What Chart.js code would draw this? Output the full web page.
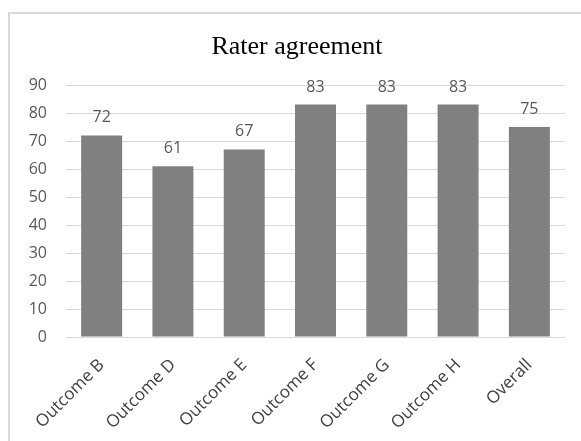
<!DOCTYPE html>
<html>
<head>
<meta charset="utf-8">
<script src="https://cdn.jsdelivr.net/npm/chart.js@4/dist/chart.umd.min.js"></script>
<style>
    html, body { margin: 0; padding: 0; background: #fff; overflow: hidden; }
    #frame {
        position: absolute; left: 8px; top: 12px;
        width: 640px; height: 500px;
        border: 2px solid #d9d9d9; box-sizing: border-box;
    }
    #wrap { position: absolute; left: 0; top: 0; width: 581px; height: 441px; }
</style>
</head>
<body>
<div id="frame"></div>
<div id="wrap"><canvas id="bar-chart" width="581" height="441"></canvas></div>
<script>
const chartTitle = 'Rater agreement';
const categories = ['Outcome B', 'Outcome D', 'Outcome E', 'Outcome F', 'Outcome G', 'Outcome H', 'Overall'];
const agreement = [72, 61, 67, 83, 83, 83, 75];
const yTicks = [0, 10, 20, 30, 40, 50, 60, 70, 80, 90];

// value labels above each bar + title (title sits off-centre in the original)
const barLabels = {
    id: 'barLabels',
    afterDatasetsDraw: function (chart) {
        const ctx = chart.ctx;
        const meta = chart.getDatasetMeta(0);
        ctx.save();
        ctx.font = '16px "Open Sans"';
        ctx.fillStyle = '#595959';
        ctx.textAlign = 'center';
        ctx.textBaseline = 'alphabetic';
        meta.data.forEach(function (bar, i) {
            ctx.fillText(String(agreement[i]), bar.x, bar.y - 13);
        });

        ctx.font = '26px "Liberation Serif", "Times New Roman", serif';
        ctx.fillStyle = '#000';
        ctx.fillText(chartTitle, 297, 54);
        ctx.restore();
    }
};

new Chart(document.querySelector('#bar-chart').getContext('2d'), {
    type: 'bar',
    data: {
        labels: categories,
        datasets: [{
            data: agreement,
            backgroundColor: '#808080',
            borderWidth: 0,
            categoryPercentage: 1,
            barPercentage: 0.575
        }]
    },
    options: {
        responsive: false,
        animation: false,
        layout: { padding: { left: 8, right: 16, top: 85, bottom: 0 } },
        plugins: {
            legend: { display: false },
            tooltip: { enabled: false },
            title: { display: false }
        },
        scales: {
            x: {
                grid: { display: false, drawTicks: false },
                border: { display: false },
                ticks: {
                    color: '#404040',
                    font: { family: '"Open Sans"', size: 17 },
                    minRotation: 45,
                    maxRotation: 45,
                    padding: 18
                },
                afterFit: function (scale) { scale.height = 104; }
            },
            y: {
                min: 0,
                max: 90,
                afterBuildTicks: function (scale) {
                    scale.ticks = yTicks.map(function (v) { return { value: v }; });
                },
                grid: { color: '#d9d9d9', lineWidth: 1, drawTicks: false },
                border: { display: false },
                ticks: {
                    color: '#595959',
                    font: { family: '"Open Sans"', size: 16 },
                    padding: 19
                },
                afterFit: function (scale) { scale.width = 58; }
            }
        }
    },
    plugins: [barLabels]
});
</script>
</body>
</html>
